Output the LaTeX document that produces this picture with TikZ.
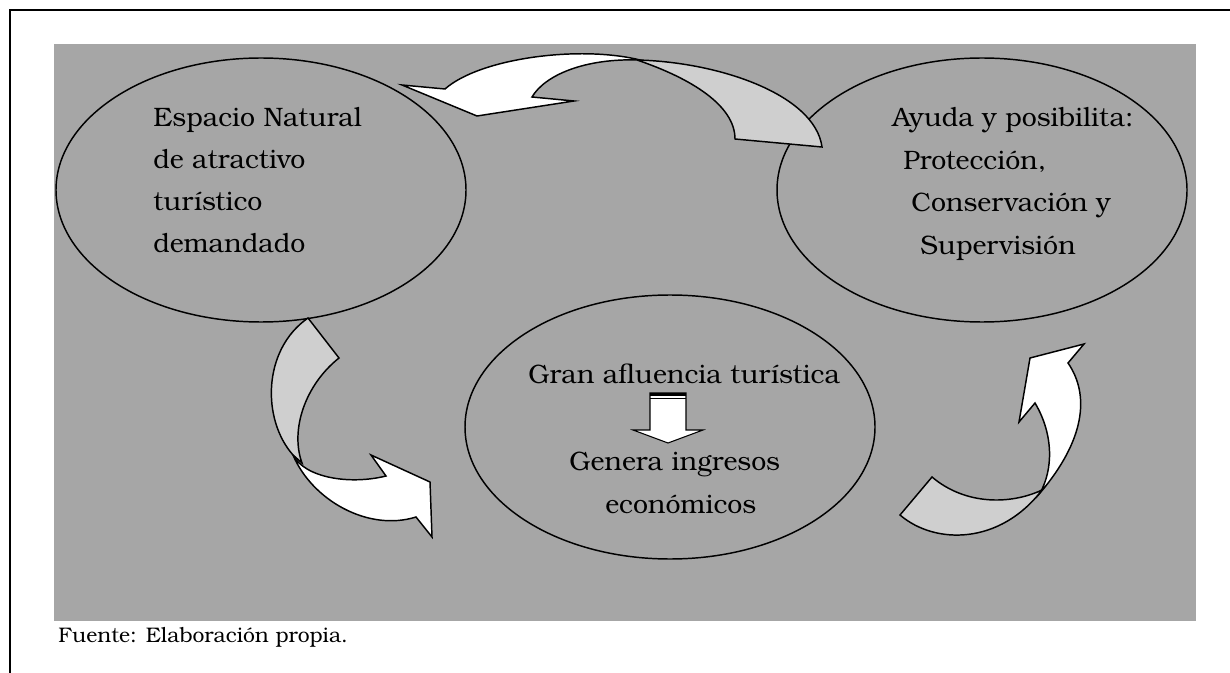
\documentclass[tikz,border=0pt]{standalone}
\usepackage{fontspec}
\setmainfont{TeX Gyre Bonum}
\usetikzlibrary{shapes.geometric}
\definecolor{fondo}{HTML}{A6A6A6}
\definecolor{cara}{HTML}{CFCFCF}
\tikzset{
	burbuja/.style={draw, line width=1.1pt, ellipse, inner sep=0pt, minimum width=307.5pt, minimum height=198pt},
	texto/.style={anchor=base west, inner sep=0pt, font=\fontsize{20}{24}\selectfont},
	cinta/.style={draw, line width=1.1pt, line join=miter, fill=cara},
	punta/.style={draw, line width=1.1pt, line join=miter, fill=white}
}

\begin{document}
\begin{tikzpicture}[x=0.75pt, y=-0.75pt]
		\useasboundingbox (0,0) rectangle (1230,673);
		\draw[line width=1.5pt] (1230,10) -- (10,10) -- (10,673);
		\fill[fondo] (54,44) rectangle (1196,621);
		\node[burbuja] (natural) at (261,190) {};
		\node[burbuja] (ayuda) at (982,190) {};
		\node[burbuja] (afluencia) at (670,427) {};
		\draw[cinta] (637,60) .. controls (720,62) and (815,95) .. (822,147) -- (735,139) .. controls (735,105) and (690,78) .. (637,60);
		\draw[punta] (402,85) -- (445,89) .. controls (480,58) and (580,45) .. (640,60) .. controls (585,58) and (545,75) .. (532,97) -- (574,101) -- (477,116) -- cycle;
		\draw[cinta] (308,318) -- (339,358) .. controls (305,385) and (290,430) .. (302,463) -- (293,455) .. controls (262,420) and (262,350) .. (308,318) -- cycle;
		\draw[punta] (293,455) .. controls (312,500) and (368,532) .. (416,517) -- (432,537) -- (430,482) -- (371,455) -- (386,476) .. controls (350,485) and (305,478) .. (293,455) -- cycle;
		\draw[cinta] (932,477) -- (900,515) .. controls (935,545) and (1000,545) .. (1042,490) .. controls (1010,505) and (965,505) .. (932,477) -- cycle;
		\draw[punta] (1040,493) .. controls (1053,470) and (1054,435) .. (1035,403) -- (1019,422) -- (1030,358) -- (1084,344) -- (1068,363) .. controls (1090,395) and (1085,440) .. (1040,493) -- cycle;
		\draw[punta, line width=0.8pt] (650,393) -- (686,393) -- (686,430) -- (703,430) -- (668,443) -- (633,430) -- (650,430) -- cycle;
		\fill (650,392.5) rectangle (686,395.5);
		\draw[line width=0.6pt] (650,398.5) -- (686,398.5);
		\node[texto] (n1) at (153,127) {Espacio Natural};
		\node[texto] (n2) at (153,169) {de atractivo};
		\node[texto] (n3) at (153,211) {turístico};
		\node[texto] (n4) at (153,253) {demandado};
		\node[texto] (a1) at (892,127) {Ayuda y posibilita:};
		\node[texto] (a2) at (903,170) {Protección,};
		\node[texto] (a3) at (911,212) {Conservación y};
		\node[texto] (a4) at (920,255) {Supervisión};
		\node[texto] (g1) at (528,383) {Gran afluencia turística};
		\node[texto] (g2) at (569,470) {Genera ingresos};
		\node[texto] (g3) at (605,513) {económicos};
		\node[texto, font=\fontsize{15.8}{19}\selectfont] (fuente) at (58,642) {Fuente: Elaboración propia.};
	\end{tikzpicture}
\end{document}
